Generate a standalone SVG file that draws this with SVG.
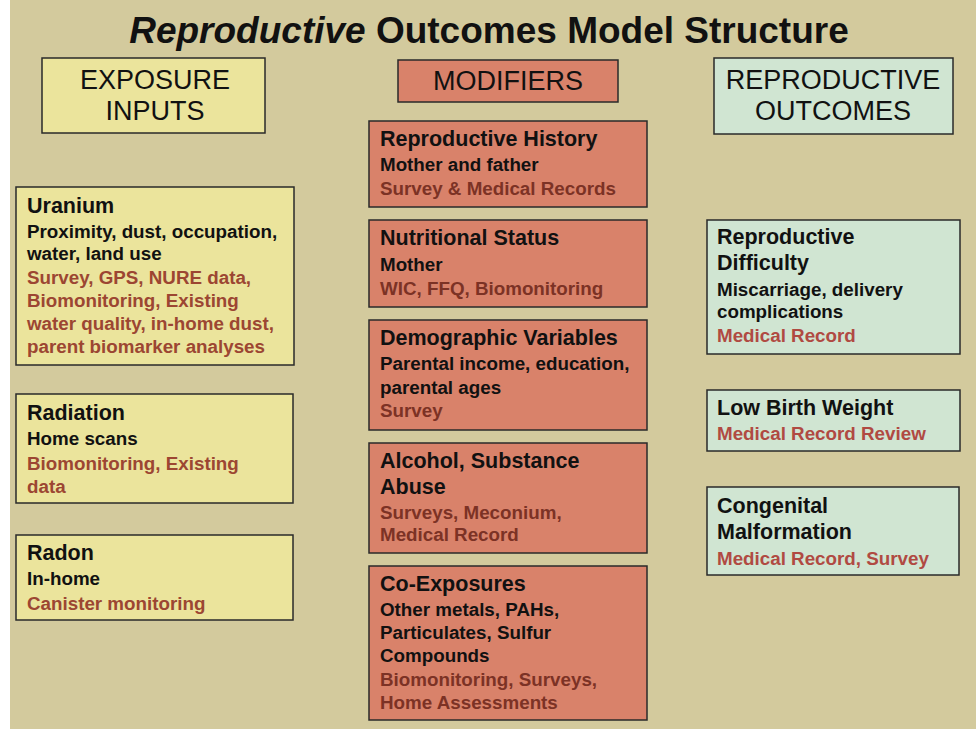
<svg xmlns="http://www.w3.org/2000/svg" width="976" height="729" viewBox="0 0 976 729">
<style>
text{font-family:"Liberation Sans",Arial,Helvetica,sans-serif;font-weight:bold;fill:#111}
.t{font-size:37px}
.col{font-size:27px;font-weight:normal;text-anchor:middle}
.h{font-size:21.5px}
.b{font-size:18.8px}
.s{font-size:18.8px}
.y{fill:#ebe49c;stroke:#2a2a2a;stroke-width:1.5}
.r{fill:#d9826a;stroke:#2a2a2a;stroke-width:1.5}
.g{fill:#d0e5d2;stroke:#2a2a2a;stroke-width:1.5}
g.yb .s{fill:#9c4632}
g.rb .s{fill:#7c3225}
g.gb .s{fill:#b04a42}
</style>
<rect x="0" y="0" width="976" height="729" fill="#fff"/>
<rect x="10" y="0" width="966" height="729" fill="#d3ca9d"/>
<text class="t" x="489" y="43" text-anchor="middle"><tspan font-style="italic">Reproductive</tspan> Outcomes Model Structure</text>

<g id="exposure-inputs">
<rect class="y" x="42" y="58" width="223" height="75"/>
<text class="col" x="155" y="89">EXPOSURE</text>
<text class="col" x="155" y="120">INPUTS</text>
</g>
<g id="modifiers">
<rect class="r" x="398" y="60" width="220" height="42"/>
<text class="col" x="508" y="90">MODIFIERS</text>
</g>
<g id="reproductive-outcomes">
<rect class="g" x="714" y="58" width="239" height="76"/>
<text class="col" x="833" y="89">REPRODUCTIVE</text>
<text class="col" x="833" y="120">OUTCOMES</text>
</g>

<g id="uranium" class="yb">
<rect class="y" x="16" y="187" width="278" height="178"/>
<text class="h" x="27" y="213">Uranium</text>
<text class="b" x="27" y="238">Proximity, dust, occupation,</text>
<text class="b" x="27" y="260">water, land use</text>
<text class="s" x="27" y="284">Survey, GPS, NURE data,</text>
<text class="s" x="27" y="307">Biomonitoring, Existing</text>
<text class="s" x="27" y="330">water quality, in-home dust,</text>
<text class="s" x="27" y="353">parent biomarker analyses</text>
</g>
<g id="radiation" class="yb">
<rect class="y" x="16" y="394" width="277" height="109"/>
<text class="h" x="27" y="420">Radiation</text>
<text class="b" x="27" y="445">Home scans</text>
<text class="s" x="27" y="470">Biomonitoring, Existing</text>
<text class="s" x="27" y="493">data</text>
</g>
<g id="radon" class="yb">
<rect class="y" x="16" y="535" width="277" height="85"/>
<text class="h" x="27" y="560">Radon</text>
<text class="b" x="27" y="585">In-home</text>
<text class="s" x="27" y="610">Canister monitoring</text>
</g>

<g id="reproductive-history" class="rb">
<rect class="r" x="369" y="121" width="278" height="86"/>
<text class="h" x="380" y="146">Reproductive History</text>
<text class="b" x="380" y="171">Mother and father</text>
<text class="s" x="380" y="195">Survey &amp; Medical Records</text>
</g>
<g id="nutritional-status" class="rb">
<rect class="r" x="369" y="220" width="278" height="87"/>
<text class="h" x="380" y="245">Nutritional Status</text>
<text class="b" x="380" y="271">Mother</text>
<text class="s" x="380" y="295">WIC, FFQ, Biomonitoring</text>
</g>
<g id="demographic-variables" class="rb">
<rect class="r" x="369" y="320" width="278" height="110"/>
<text class="h" x="380" y="345">Demographic Variables</text>
<text class="b" x="380" y="370">Parental income, education,</text>
<text class="b" x="380" y="394">parental ages</text>
<text class="s" x="380" y="417">Survey</text>
</g>
<g id="alcohol-substance-abuse" class="rb">
<rect class="r" x="369" y="443" width="278" height="110"/>
<text class="h" x="380" y="468">Alcohol, Substance</text>
<text class="h" x="380" y="494">Abuse</text>
<text class="s" x="380" y="519">Surveys, Meconium,</text>
<text class="s" x="380" y="541">Medical Record</text>
</g>
<g id="co-exposures" class="rb">
<rect class="r" x="369" y="566" width="278" height="154"/>
<text class="h" x="380" y="591">Co-Exposures</text>
<text class="b" x="380" y="616">Other metals, PAHs,</text>
<text class="b" x="380" y="639">Particulates, Sulfur</text>
<text class="b" x="380" y="662">Compounds</text>
<text class="s" x="380" y="686">Biomonitoring, Surveys,</text>
<text class="s" x="380" y="709">Home Assessments</text>
</g>

<g id="reproductive-difficulty" class="gb">
<rect class="g" x="707" y="220" width="253" height="134"/>
<text class="h" x="717" y="244">Reproductive</text>
<text class="h" x="717" y="270">Difficulty</text>
<text class="b" x="717" y="296">Miscarriage, delivery</text>
<text class="b" x="717" y="318">complications</text>
<text class="s" x="717" y="342">Medical Record</text>
</g>
<g id="low-birth-weight" class="gb">
<rect class="g" x="707" y="390" width="253" height="61"/>
<text class="h" x="717" y="415">Low Birth Weight</text>
<text class="s" x="717" y="440">Medical Record Review</text>
</g>
<g id="congenital-malformation" class="gb">
<rect class="g" x="707" y="487" width="252" height="88"/>
<text class="h" x="717" y="513">Congenital</text>
<text class="h" x="717" y="539">Malformation</text>
<text class="s" x="717" y="565">Medical Record, Survey</text>
</g>
<g id="connectors"></g>
</svg>
